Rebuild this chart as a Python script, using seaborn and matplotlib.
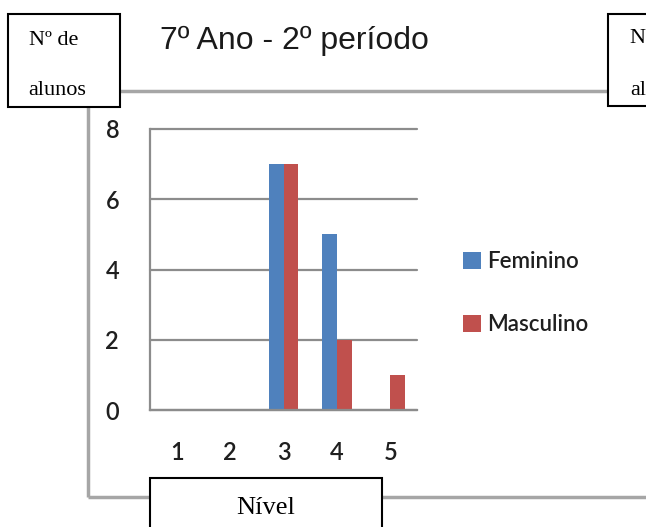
import pandas as pd
import numpy as np
import seaborn as sns
import matplotlib.pyplot as plt
from matplotlib.patches import Rectangle
from matplotlib.lines import Line2D

niveis = ['1', '2', '3', '4', '5']
feminino = [0, 0, 7, 5, 0]
masculino = [0, 0, 7, 2, 1]
series = ['Feminino', 'Masculino']
cores = ['#4F81BD', '#C0504D']

df = pd.DataFrame({
    'Nível': niveis * 2,
    'Nº de alunos': feminino + masculino,
    'Sexo': [series[0]] * len(niveis) + [series[1]] * len(niveis),
})

sns.set_style('white')
plt.rcParams['font.family'] = ['Lato', 'DejaVu Sans']

W, H = 646, 527
def fx(x):
    return x / W
def fy(y):
    return 1 - y / H

fig = plt.figure(figsize=(W / 100, H / 100), dpi=100)

# moldura cinzenta do gráfico
frame = dict(color='#a6a6a6', lw=2.5, solid_capstyle='butt', zorder=1)
fig.add_artist(Line2D([fx(88), fx(88)], [fy(91), fy(497)], transform=fig.transFigure, **frame))
fig.add_artist(Line2D([fx(88), fx(660)], [fy(91), fy(91)], transform=fig.transFigure, **frame))
fig.add_artist(Line2D([fx(88), fx(660)], [fy(497), fy(497)], transform=fig.transFigure, **frame))

ax = fig.add_axes([fx(150), fy(410), (417 - 150) / W, (410 - 129) / H])
sns.barplot(data=df, x='Nível', y='Nº de alunos', hue='Sexo', palette=cores,
            width=0.55, saturation=1, linewidth=0, ax=ax)

grid = '#8c8c8c'
ax.set_xlim(-0.5, 4.5)
ax.set_ylim(0, 8)
ax.set_yticks([0, 2, 4, 6, 8])
ax.set_xticks(range(len(niveis)))
ax.set_xticklabels(niveis)
ax.set_xticks(np.arange(-0.5, 5, 1), minor=True)
ax.set_xlabel('')
ax.set_ylabel('')
ax.set_axisbelow(True)
ax.yaxis.grid(True, color=grid, lw=1.6)
for gl in ax.get_ygridlines():
    gl.set_clip_on(False)
for s in ['top', 'right']:
    ax.spines[s].set_visible(False)
for s in ['left', 'bottom']:
    ax.spines[s].set_color(grid)
    ax.spines[s].set_linewidth(1.6)
ax.tick_params(axis='y', length=7.2, width=1.6, color=grid, pad=15,
               labelsize=17, labelcolor='#1f1f1f')
ax.tick_params(axis='x', which='major', length=0, pad=22, labelsize=17,
               labelcolor='#1f1f1f')
ax.tick_params(axis='x', which='minor', length=7.2, width=1.6, color=grid)
for lab in ax.get_xticklabels() + ax.get_yticklabels():
    lab.set_fontweight('semibold')

handles, labels = ax.get_legend_handles_labels()
ax.legend(handles, labels, loc='center left', bbox_to_anchor=(fx(463), fy(293)),
          bbox_transform=fig.transFigure, frameon=False,
          prop={'size': 16, 'weight': 'semibold'},
          handlelength=0.8, handleheight=0.8, handletextpad=0.3,
          labelspacing=1.9, borderpad=0, borderaxespad=0, labelcolor='#1f1f1f')

# caixas de texto
serif = ['Liberation Serif', 'DejaVu Serif']
caixa = dict(fc='white', ec='black', lw=1.5, transform=fig.transFigure, zorder=5)
fig.add_artist(Rectangle((fx(8), fy(107)), (120 - 8) / W, (107 - 14) / H, **caixa))
fig.add_artist(Rectangle((fx(608), fy(106)), (660 - 608) / W, (106 - 14) / H, **caixa))
fig.add_artist(Rectangle((fx(150), fy(540)), (382 - 150) / W, (540 - 478) / H, **caixa))

txt = dict(family=serif, fontsize=16, color='black', va='baseline', zorder=6)
fig.text(fx(29), fy(45), 'Nº de', **txt)
fig.text(fx(28), fy(95), 'alunos', **txt)
fig.text(fx(630), fy(43), 'Nº de', **txt)
fig.text(fx(630), fy(95), 'alunos', **txt)
fig.text(fx(266), fy(514), 'Nível', family=serif, fontsize=19, color='black',
         ha='center', va='baseline', zorder=6)

fig.text(fx(160), fy(49), '7º Ano - 2º período', family=['Liberation Sans', 'DejaVu Sans'],
         fontsize=23, color='#1a1a1a', va='baseline')

fig.savefig('out.png', dpi=100)
